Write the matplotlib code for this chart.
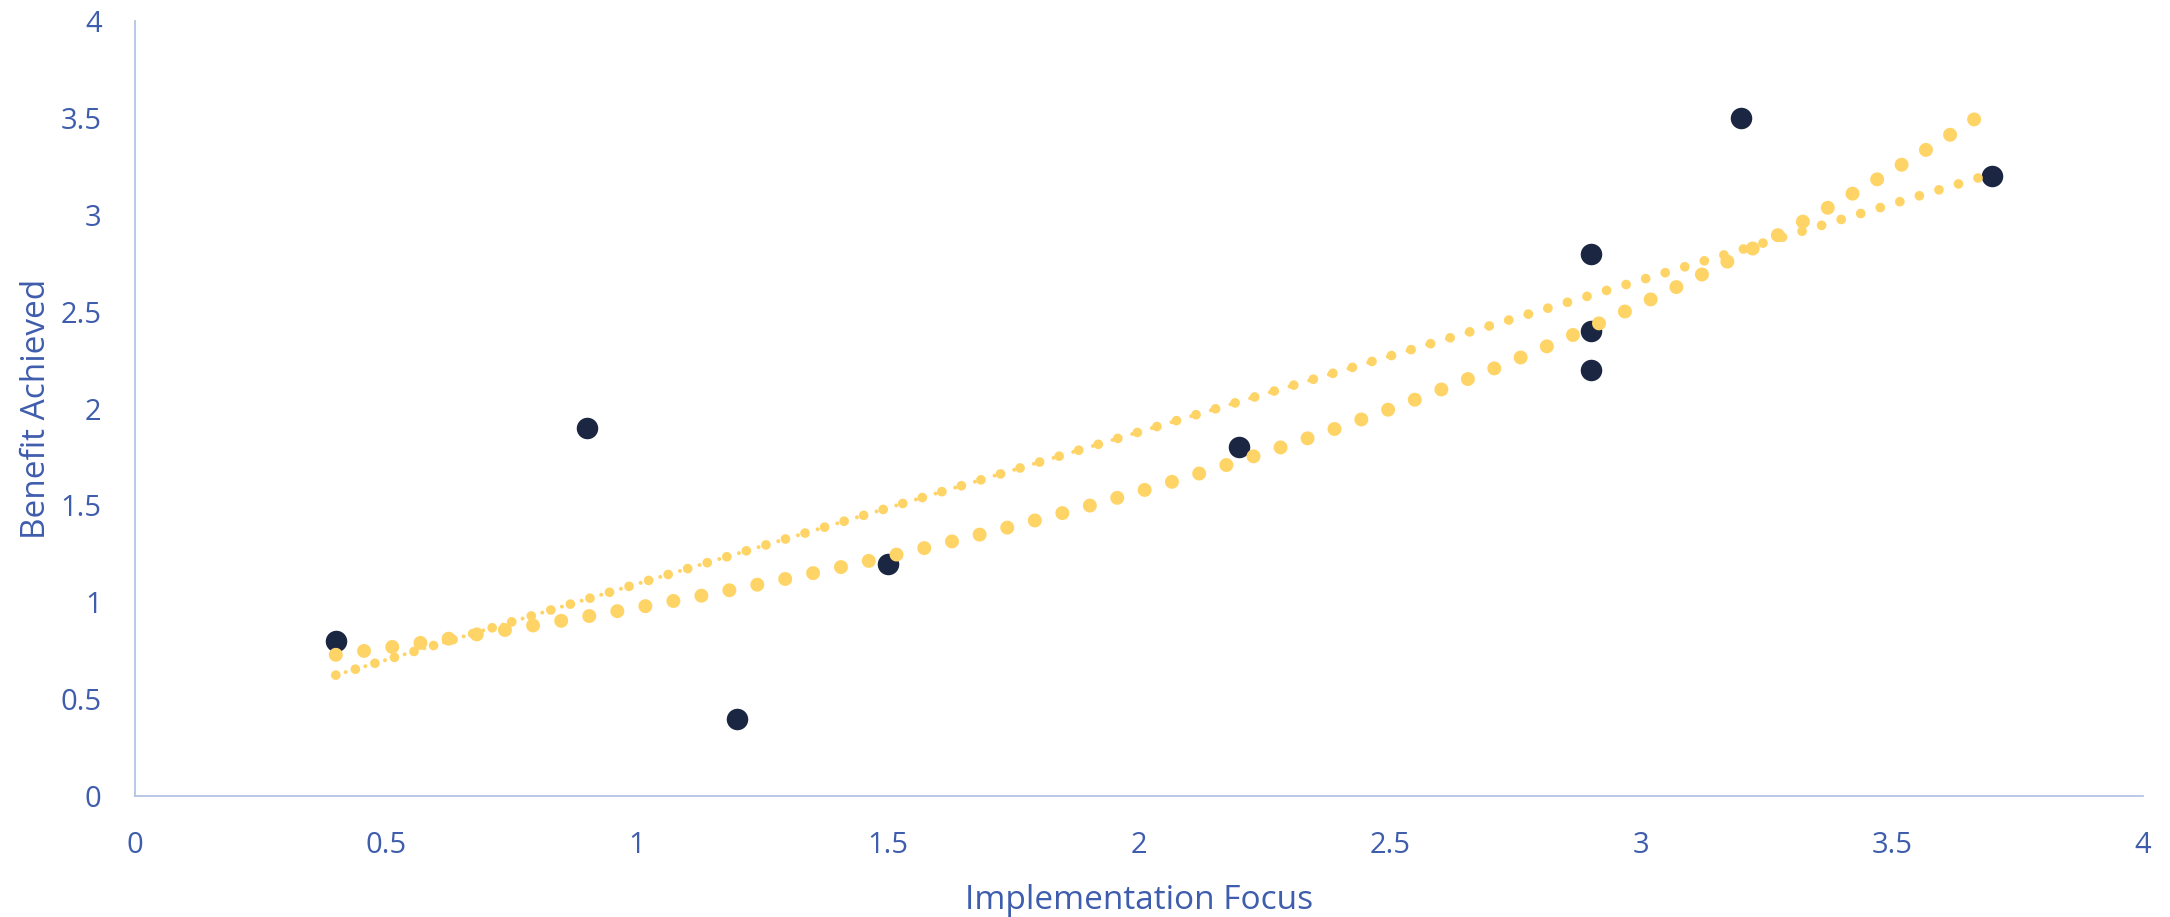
import matplotlib.pyplot as plt
import numpy as np

# data
focus = [0.4, 0.9, 1.2, 1.5, 2.2, 2.9, 2.9, 2.9, 3.2, 3.7]
benefit = [0.8, 1.9, 0.4, 1.2, 1.8, 2.8, 2.4, 2.2, 3.5, 3.2]
x_ticks = [0, 0.5, 1, 1.5, 2, 2.5, 3, 3.5, 4]
y_ticks = [0, 0.5, 1, 1.5, 2, 2.5, 3, 3.5, 4]

navy = '#1b2642'
gold = '#ffd467'
txt = '#3f5dad'
axcol = '#b4c4e7'

plt.rcParams['font.family'] = ['Open Sans', 'DejaVu Sans']

fig = plt.figure(figsize=(21.7, 9.17), dpi=100)
ax = fig.add_axes([135 / 2170, 1 - 796 / 917, 2008 / 2170, 775 / 917])

x = np.array(focus)
y = np.array(benefit)

ax.scatter(x, y, s=240, color=navy, zorder=2, linewidths=0)

# trendlines (Excel style): linear and exponential fits
xs = np.linspace(x.min(), x.max(), 400)
m, c = np.polyfit(x, y, 1)
b, lna = np.polyfit(x, np.log(y), 1)
lin = m * xs + c
expo = np.exp(lna) * np.exp(b * xs)

ax.plot(xs, expo, color=gold, lw=10.1, linestyle=(0, (0.001, 2.03)),
        dash_capstyle='round', zorder=3)
ax.plot(xs, lin, color=gold, lw=7.0, linestyle=(0, (0.001, 2.1)),
        dash_capstyle='round', zorder=3)
ax.plot(xs, lin, color=gold, lw=2.9, linestyle=(2.55, (0.001, 5.1)),
        dash_capstyle='round', zorder=3)

ax.set_xlim(0, 4)
ax.set_ylim(0, 4)
ax.set_xticks(x_ticks)
ax.set_yticks(y_ticks)
ax.set_xticklabels([f'{t:g}' for t in x_ticks])
ax.set_yticklabels([f'{t:g}' for t in y_ticks])
ax.tick_params(length=0, labelsize=21, colors=txt)
ax.tick_params(axis='y', pad=24)
ax.tick_params(axis='x', pad=25)

for s in ['top', 'right']:
    ax.spines[s].set_visible(False)
for s in ['left', 'bottom']:
    ax.spines[s].set_color(axcol)
    ax.spines[s].set_linewidth(1.3)

ax.set_xlabel('Implementation Focus', fontsize=24, color=txt)
ax.set_ylabel('Benefit Achieved', fontsize=24, color=txt)
ax.xaxis.label.set_va('center')
ax.yaxis.label.set_va('center')
ax.xaxis.set_label_coords(0.5, -0.135)
ax.yaxis.set_label_coords(-0.049, 0.5)

fig.savefig('out.png', dpi=100)
